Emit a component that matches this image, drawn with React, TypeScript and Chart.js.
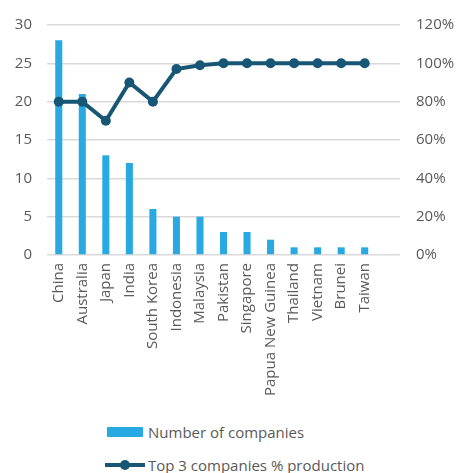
import React, { useEffect, useRef } from "react";
import { Chart, registerables } from "chart.js";

Chart.register(...registerables);

const categories = ["China", "Australia", "Japan", "India", "South Korea", "Indonesia", "Malaysia", "Pakistan", "Singapore", "Papua New Guinea", "Thailand", "Vietnam", "Brunei", "Taiwan", ""];
const companies = [28, 21, 13, 12, 6, 5, 5, 3, 3, 2, 1, 1, 1, 1, null];
const top3Share = [80, 80, 70, 90, 80, 97, 99, 100, 100, 100, 100, 100, 100, 100, null];
const leftTicks = [0, 5, 10, 15, 20, 25, 30];
const rightTicks = [0, 20, 40, 60, 80, 100, 120];

const BAR = "#29A9E1";
const LINE = "#175675";
const TXT = "#595959";
const FONT = "'Open Sans', sans-serif";

export default function App() {
  const ref = useRef<HTMLCanvasElement>(null);
  useEffect(() => {
    const ctx = ref.current!;
    const chart = new Chart(ctx, {
      type: "bar",
      data: {
        labels: categories,
        datasets: [
          {
            type: "line",
            label: "Top 3 companies % production",
            data: top3Share,
            yAxisID: "y1",
            borderColor: LINE,
            backgroundColor: LINE,
            borderWidth: 4,
            pointRadius: 5,
            pointBorderWidth: 0,
            pointBackgroundColor: LINE,
            pointBorderColor: LINE,
            order: 0,
          } as any,
          {
            type: "bar",
            label: "Number of companies",
            data: companies,
            yAxisID: "y",
            backgroundColor: BAR,
            categoryPercentage: 1,
            barPercentage: 0.3,
            order: 1,
          },
        ],
      },
      options: {
        animation: false,
        responsive: false,
        maintainAspectRatio: false,
        layout: { padding: { top: 22, left: 0, right: 0, bottom: 0 } },
        plugins: { legend: { display: false }, tooltip: { enabled: false } },
        scales: {
          x: {
            offset: true,
            grid: { display: false, drawTicks: false },
            border: { display: false },
            ticks: {
              color: TXT,
              font: { family: FONT, size: 15 },
              maxRotation: 90,
              minRotation: 90,
              autoSkip: false,
              padding: 8,
            },
            afterFit: (s: any) => { s.height = 165; },
          },
          y: {
            position: "left",
            min: 0,
            max: 30,
            afterBuildTicks: (s: any) => { s.ticks = leftTicks.map((v) => ({ value: v })); },
            grid: { color: "#D9D9D9", lineWidth: 1.5, drawTicks: false },
            border: { display: false },
            ticks: { color: TXT, font: { family: FONT, size: 15 }, padding: 15 },
            afterFit: (s: any) => { s.width = 47; },
          },
          y1: {
            position: "right",
            min: 0,
            max: 120,
            afterBuildTicks: (s: any) => { s.ticks = rightTicks.map((v) => ({ value: v })); },
            grid: { display: false, drawTicks: false },
            border: { display: false },
            ticks: {
              color: TXT,
              font: { family: FONT, size: 15 },
              padding: 16,
              callback: (v: any) => v + "%",
            },
            afterFit: (s: any) => { s.width = 58; },
          },
        },
      },
    });
    return () => chart.destroy();
  }, []);

  const textStyle: React.CSSProperties = {
    position: "absolute",
    left: 148,
    fontFamily: FONT,
    fontSize: 15,
    color: TXT,
    lineHeight: "20px",
    whiteSpace: "nowrap",
  };

  return (
    <div style={{ position: "absolute", left: 0, top: 0, width: 458, height: 473, background: "#fff" }}>
      <canvas ref={ref} width={458} height={420} style={{ position: "absolute", left: 0, top: 0 }} />
      <div style={{ position: "absolute", left: 107, top: 427, width: 36, height: 10, background: BAR }} />
      <div style={{ ...textStyle, top: 422 }}>Number of companies</div>
      <div style={{ position: "absolute", left: 105, top: 463, width: 40, height: 4, background: LINE }} />
      <div style={{ position: "absolute", left: 120, top: 460, width: 10, height: 10, borderRadius: 5, background: LINE }} />
      <div style={{ ...textStyle, top: 455 }}>Top 3 companies % production</div>
    </div>
  );
}
